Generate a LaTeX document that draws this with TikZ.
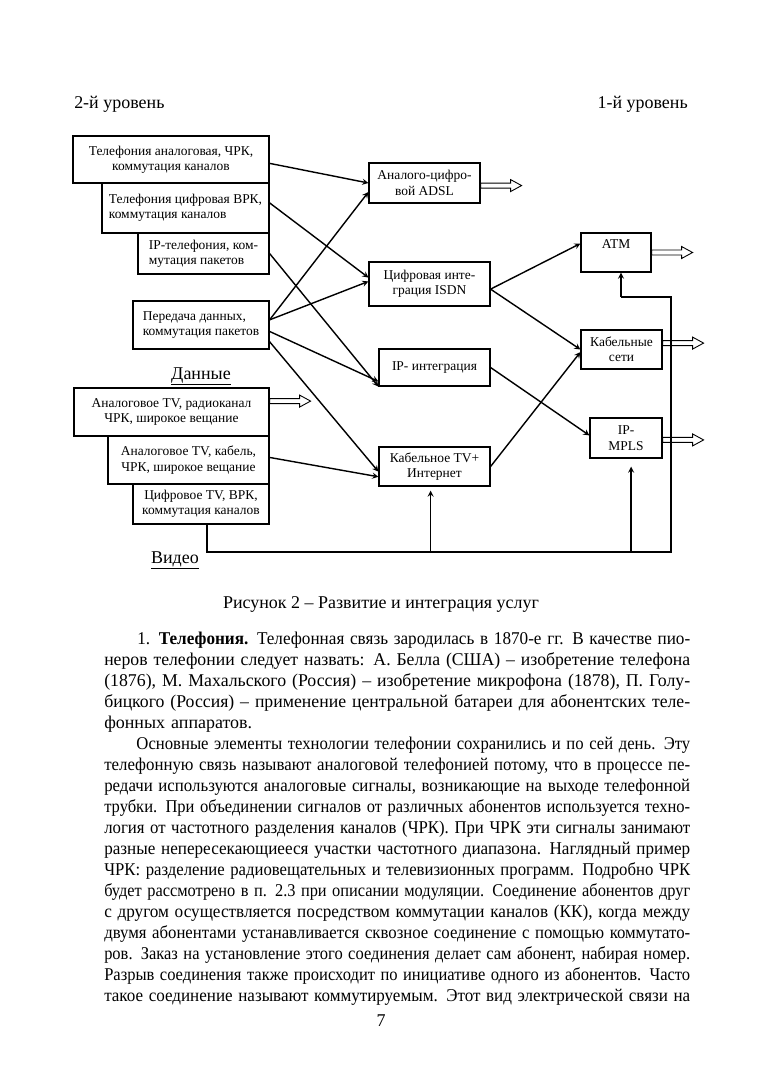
\documentclass[tikz,border=0pt]{standalone}
\usepackage{fontspec}
\setmainfont{Liberation Serif}
\usepackage{graphicx}
\usepackage{tikz}
\newdimen\upx \upx=0.7792pt
\newsavebox\strokbox
\newcommand\strok[1]{\sbox\strokbox{#1}\ifdim\wd\strokbox>\linewidth\hbox{\resizebox{\linewidth}{\height}{\usebox\strokbox}}\else\hbox to\linewidth{#1}\fi}
\tikzset{
  blok/.style={draw, line width=0.9pt, inner sep=0pt, font=\fontsize{10.5}{12}\selectfont},
  strelka/.style={->,>=stealth,line width=1.1pt},
  hollowarr/.pic={\draw[line width=0.7pt,fill=white] (0,-2.5) -- (30,-2.5) -- (30,-6) -- (41,0) -- (30,6) -- (30,2.5) -- (0,2.5) -- cycle;}
}

\begin{document}
\begin{tikzpicture}[x=0.7792pt, y=-0.7792pt]
\fill[white] (0,0) rectangle (764,1080);
\useasboundingbox (0,0) rectangle (764,1080);

% levels
\node[anchor=base west, inner sep=0pt, font=\fontsize{14}{16}\selectfont] (lev2) at (74,108) {2-й уровень};
\node[anchor=base east, inner sep=0pt, font=\fontsize{14}{16}\selectfont] (lev1) at (688,108) {1-й уровень};

% services
\node[blok, minimum width=196\upx, minimum height=47\upx, align=center] (tfa) at (171,159.5) {Телефония аналоговая, ЧРК,\\ коммутация каналов};
\node[blok, minimum width=167\upx, minimum height=50\upx, align=left] (tfc) at (185.5,208) {Телефония цифровая ВРК,\\ коммутация каналов};
\node[blok, minimum width=131\upx, minimum height=41\upx, align=left] (iptel) at (203.5,253.5) {IP-телефония, ком-\\ мутация пакетов};
\node[blok, minimum width=136\upx, minimum height=48\upx, align=left] (pd) at (201,325) {Передача данных,\\ коммутация пакетов};
\node[inner sep=0pt, font=\fontsize{14}{16}\selectfont, anchor=base] (dan) at (201,379) {\underline{Данные}};
\node[blok, minimum width=195\upx, minimum height=48\upx, align=center] (atv) at (171.5,412) {Аналоговое TV, радиоканал\\ ЧРК, широкое вещание};
\node[blok, minimum width=161\upx, minimum height=48\upx, align=center] (atvk) at (188.5,460) {Аналоговое TV, кабель,\\ ЧРК, широкое вещание};
\node[blok, minimum width=136\upx, minimum height=40\upx, align=center] (ctv) at (201,504) {Цифровое TV, ВРК,\\ коммутация каналов};
\node[inner sep=0pt, font=\fontsize{14}{16}\selectfont, anchor=base] (vid) at (175,563) {\underline{Видео}};

% integration
\node[blok, minimum width=111\upx, minimum height=40\upx, align=center] (adsl) at (424.5,183) {Аналого-цифро-\\ вой ADSL};
\node[blok, minimum width=121\upx, minimum height=44\upx, align=center] (isdn) at (429.5,284) {Цифровая инте-\\ грация ISDN};
\node[blok, minimum width=111\upx, minimum height=37\upx, align=center] (ipint) at (434.5,367.5) {IP- интеграция};
\node[blok, minimum width=111\upx, minimum height=39\upx, align=center] (ktv) at (434.5,466.5) {Кабельное TV+\\ Интернет};

% networks
\node[blok, minimum width=70\upx, minimum height=39\upx, text depth=16\upx] (atm) at (616,252.5) {ATM};
\node[blok, minimum width=81\upx, minimum height=39\upx, align=center] (kab) at (621.5,349.5) {Кабельные\\ сети};
\node[blok, minimum width=72\upx, minimum height=40\upx, align=center] (mpls) at (626,438) {IP-\\ MPLS};

% arrows level 2 -> integration
\draw [strelka] ([yshift=-3pt]tfa.east) -- (adsl.west);
\draw [strelka] ([yshift=4pt]tfc.east) -- ([yshift=5pt]isdn.west);
\draw [strelka] (iptel.east) -- (ipint.south west);
\draw [strelka] ([yshift=4pt]pd.east) -- ([yshift=-7pt]adsl.west);
\draw [strelka] ([yshift=4pt]pd.east) -- ([yshift=2pt]isdn.west);
\draw [strelka] ([yshift=-5pt]pd.east) -- ([yshift=4pt]ipint.south west);
\draw [strelka] ([yshift=-13pt]pd.east) -- ([yshift=-4pt]ktv.west);
\draw [strelka] ([yshift=2pt]atvk.east) -- ([yshift=-8pt]ktv.west);

% integration -> networks
\draw [strelka] ([yshift=-4pt]isdn.east) -- ([yshift=7pt]atm.west);
\draw [strelka] ([yshift=-4pt]isdn.east) -- (kab.west);
\draw [strelka] (ipint.east) -- ([yshift=2pt]mpls.west);
\draw [strelka] (ktv.east) -- ([yshift=-2pt]kab.west);

% outputs
\pic at ([yshift=-2pt]adsl.east) {hollowarr};
\pic at (atm.east) {hollowarr};
\pic at ([yshift=5pt]kab.east) {hollowarr};
\pic at ([yshift=-1.5pt]mpls.east) {hollowarr};
\pic at ([yshift=8.5pt]atv.east) {hollowarr};

% video bus
\coordinate (bl) at (207,552);
\coordinate (br) at (671,552);
\coordinate (tr) at (671,297);
\coordinate (tl) at (621,297);
\coordinate (kb) at ([xshift=-3pt]ktv.south);
\coordinate (mb) at ([xshift=4pt]mpls.south);
\draw [line width=1pt] (ctv.south -| bl) -- (bl) -- (br) -- (tr) -- (tl);
\draw [strelka] (tl) -- (tl |- atm.south);
\draw [strelka, shorten >=4\upx] (kb |- bl) -- (kb);
\draw [strelka, shorten >=8\upx] (mb |- bl) -- (mb);

% caption
\node[anchor=base, inner sep=0pt, font=\fontsize{14}{16}\selectfont] (cap) at (381,608) {Рисунок 2 – Развитие и интеграция услуг};

% body text
\node[anchor=base west, inner sep=0pt, text width=456.6pt, font=\fontsize{14}{16.4}\selectfont] (txt) at (104,644) {%
\strok{\hspace*{27pt}1. \textbf{Телефония.} Телефонная связь зародилась в 1870-е гг. В качестве пио-}
\strok{неров телефонии следует назвать: А. Белла (США) – изобретение телефона}
\strok{(1876), М. Махальского (Россия) – изобретение микрофона (1878), П. Голу-}
\strok{бицкого (Россия) – применение центральной батареи для абонентских теле-}
\hbox to\linewidth{фонных аппаратов.\hfil}
\strok{\hspace*{27pt}Основные элементы технологии телефонии сохранились и по сей день. Эту}
\strok{телефонную связь называют аналоговой телефонией потому, что в процессе пе-}
\strok{редачи используются аналоговые сигналы, возникающие на выходе телефонной}
\strok{трубки. При объединении сигналов от различных абонентов используется техно-}
\strok{логия от частотного разделения каналов (ЧРК). При ЧРК эти сигналы занимают}
\strok{разные непересекающиееся участки частотного диапазона. Наглядный пример}
\strok{ЧРК: разделение радиовещательных и телевизионных программ. Подробно ЧРК}
\strok{будет рассмотрено в п. 2.3 при описании модуляции. Соединение абонентов друг}
\strok{с другом осуществляется посредством коммутации каналов (КК), когда между}
\strok{двумя абонентами устанавливается сквозное соединение с помощью коммутато-}
\strok{ров. Заказ на установление этого соединения делает сам абонент, набирая номер.}
\strok{Разрыв соединения также происходит по инициативе одного из абонентов. Часто}
\strok{такое соединение называют коммутируемым. Этот вид электрической связи на}};

% page number
\node[anchor=base, inner sep=0pt, font=\fontsize{14}{16}\selectfont] (pnum) at (381,1026) {7};
\end{tikzpicture}
\end{document}
